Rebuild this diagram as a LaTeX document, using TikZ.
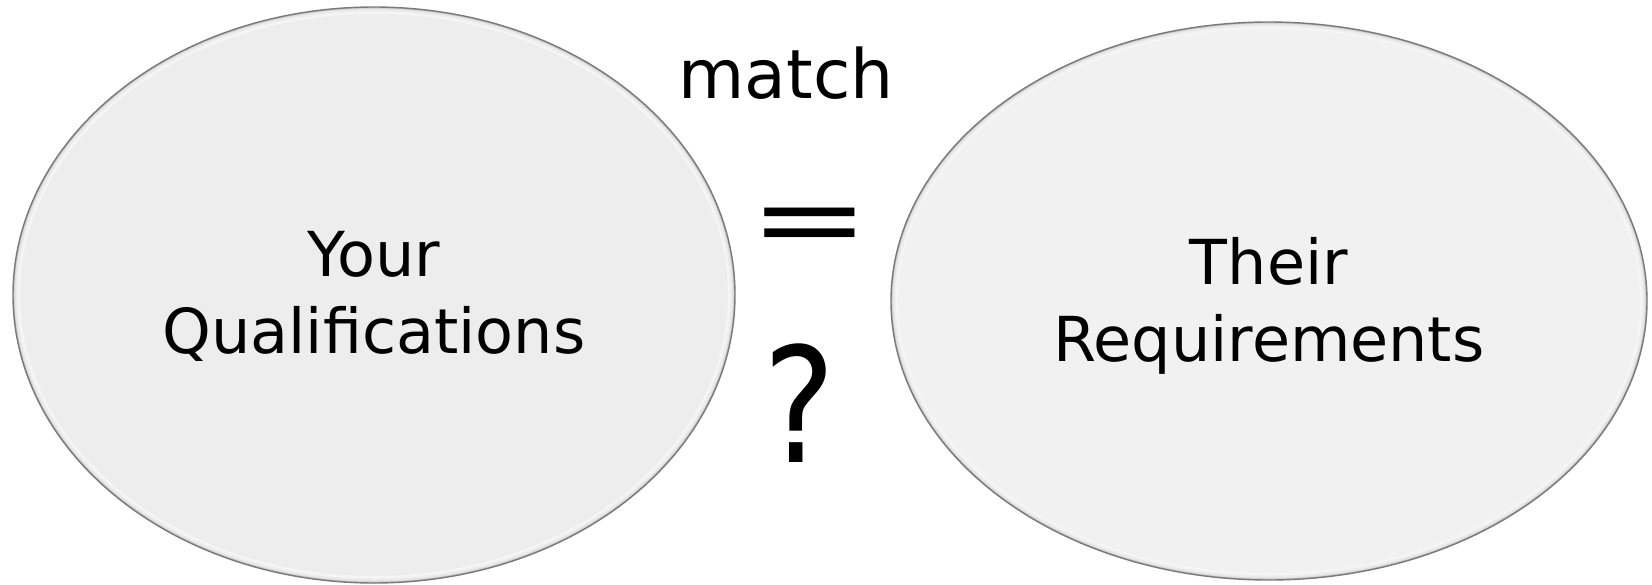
\documentclass[tikz,border=0pt]{standalone}
\usepackage{fontspec}
\setmainfont{DejaVu Sans}
\usetikzlibrary{shapes.geometric}
\definecolor{fillL}{HTML}{EDEDED}
\definecolor{fillR}{HTML}{F1F1F1}
\definecolor{edge}{HTML}{7A7A7A}
\tikzset{
  bubble/.style n args={3}{ellipse, inner sep=0pt, minimum width=2*#1 pt, minimum height=2*#2 pt,
    fill=#3, draw=edge, line width=1.4pt,
    path picture={
      \foreach \w/\c in {14/4,9/7,5/12,2.5/24}
        \draw[line width=\w pt, black!\c] (path picture bounding box.center) ellipse [x radius=#1pt, y radius=#2pt];
    }},
  lbl/.style={align=center, inner sep=0pt, font=\fontsize{62}{77}\selectfont},
}
\begin{document}
\begin{tikzpicture}[x=1pt,y=-1pt]
\useasboundingbox (0,0) rectangle (1652,584);
\node[bubble={361}{288}{fillL}] (L) at (374,295) {};
\node[bubble={378}{279}{fillR}] (R) at (1269,301) {};
\node[lbl] (Lt) at (374,296) {Your\\Qualifications};
\node[lbl] (Rt) at (1269,306) {Their\\Requirements};
\node[inner sep=0pt, anchor=base, font=\fontsize{68}{80}\selectfont] (match) at (786,98) {match};
\node[inner sep=0pt, anchor=base, font=\fontsize{120}{130}\selectfont] (eq) at (810,255) {\scalebox{1.2}[0.87]{=}};
\node[inner sep=0pt, anchor=base, font=\fontsize{160}{170}\selectfont] (qm) at (800,462) {\scalebox{0.85}[1]{?}};
\end{tikzpicture}
\end{document}
